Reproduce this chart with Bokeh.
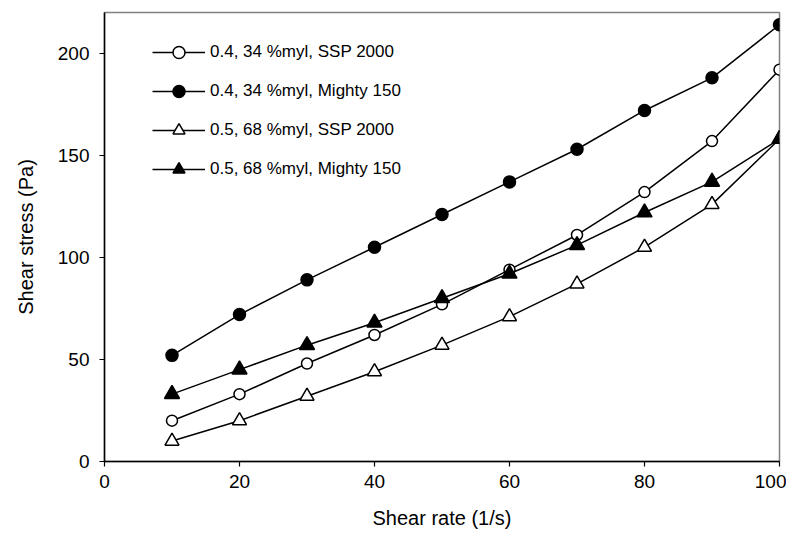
from bokeh.plotting import figure
from bokeh.models import Range1d, FixedTicker, Legend, LegendItem
from bokeh.embed import file_html
from bokeh.resources import INLINE

shear_rate = [10, 20, 30, 40, 50, 60, 70, 80, 90, 100]
ssp_04 = [20, 33, 48, 62, 77, 94, 111, 132, 157, 192]
mighty_04 = [52, 72, 89, 105, 121, 137, 153, 172, 188, 214]
ssp_05 = [10, 20, 32, 44, 57, 71, 87, 105, 126, 158]
mighty_05 = [33, 45, 57, 68, 80, 92, 106, 122, 137, 158]
labels = ["0.4, 34 %myl, SSP 2000", "0.4, 34 %myl, Mighty 150",
          "0.5, 68 %myl, SSP 2000", "0.5, 68 %myl, Mighty 150"]
x_ticks = [0, 20, 40, 60, 80, 100]
y_ticks = [0, 50, 100, 150, 200]

FONT = "Liberation Sans"

p = figure(width=786, height=536, output_backend="svg", toolbar_location=None,
           x_range=Range1d(0, 100), y_range=Range1d(0, 220),
           min_border_left=104, min_border_right=7, min_border_top=12, min_border_bottom=75)
p.grid.visible = False
p.outline_line_color = "#808080"
p.outline_line_width = 1.5
p.background_fill_color = "white"
p.border_fill_color = "white"

for ax in (p.xaxis[0], p.yaxis[0]):
    ax.axis_line_color = "black"
    ax.axis_line_width = 1.5
    ax.major_tick_line_color = "black"
    ax.major_tick_line_width = 1.2
    ax.major_tick_out = 5
    ax.major_tick_in = 0
    ax.minor_tick_line_color = None
    ax.major_label_text_font = FONT
    ax.major_label_text_font_size = "19px"
    ax.major_label_text_color = "black"
    ax.axis_label_text_font = FONT
    ax.axis_label_text_font_size = "20px"
    ax.axis_label_text_font_style = "normal"
    ax.axis_label_text_color = "black"

p.xaxis.ticker = FixedTicker(ticks=x_ticks)
p.yaxis.ticker = FixedTicker(ticks=y_ticks)
p.xaxis.axis_label = "Shear rate (1/s)"
p.yaxis.axis_label = "Shear stress (Pa)"
p.xaxis.major_label_standoff = 8
p.yaxis.major_label_standoff = 10
p.xaxis.axis_label_standoff = 16
p.yaxis.axis_label_standoff = 18

series = [
    (ssp_04, "circle", "white", 11),
    (mighty_04, "circle", "black", 12),
    (ssp_05, "triangle", "white", 14),
    (mighty_05, "triangle", "black", 15),
]
items = []
for (ys, marker, fill, size), lab in zip(series, labels):
    l = p.line(shear_rate, ys, line_color="black", line_width=1.5)
    s = p.scatter(shear_rate, ys, marker=marker, size=size, fill_color=fill,
                  line_color="black", line_width=1.5)
    items.append(LegendItem(label=lab, renderers=[l, s]))

legend = Legend(items=items, location=(48, 277), padding=0, spacing=9,
                glyph_width=53, glyph_height=30, label_height=30,
                label_standoff=5, border_line_color=None, background_fill_alpha=0,
                label_text_font=FONT, label_text_font_size="17px",
                label_text_color="black")
p.add_layout(legend)

open("out.html", "w").write(file_html(p, INLINE))
